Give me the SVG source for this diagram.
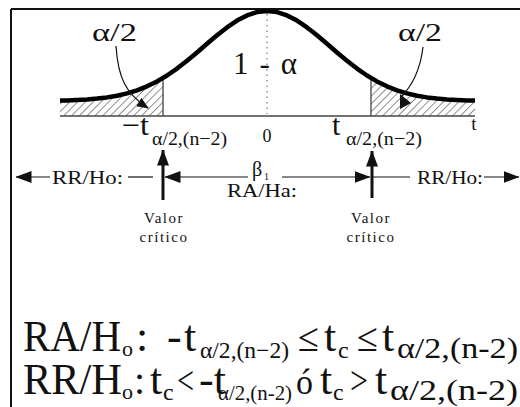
<svg xmlns="http://www.w3.org/2000/svg" width="520" height="407" viewBox="0 0 520 407">
<defs>
<style>
text{font-family:"Liberation Serif","Times New Roman",serif;fill:#111}
.thin{stroke:#111;stroke-width:1.2;fill:none}
.thick{stroke:#111;stroke-width:3;fill:none}
.ax{stroke:#444;stroke-width:1.3;fill:none}
.hd{fill:#111}
.f{font-size:44px}
.s{font-size:24px}
</style>
<pattern id="hatch" patternUnits="userSpaceOnUse" width="5.5" height="5.5" patternTransform="rotate(45)">
<line x1="0" y1="0" x2="0" y2="5.5" stroke="#222" stroke-width="1"/>
</pattern>
<marker id="ah" viewBox="0 0 12 10" refX="11" refY="5" markerWidth="12" markerHeight="10" markerUnits="userSpaceOnUse" orient="auto">
<path d="M0,0 L12,5 L0,10 Z" fill="#111"/>
</marker>
<marker id="big" viewBox="0 0 16 12" refX="15.5" refY="6" markerWidth="16" markerHeight="12" markerUnits="userSpaceOnUse" orient="auto">
<path d="M0,0 L16,6 L0,12 Z" fill="#111"/>
</marker>
</defs>
<rect width="520" height="407" fill="#fff"/>
<g id="frame">
<path d="M11,9 H520 M11,9 V407" stroke="#111" stroke-width="2" fill="none"/>
</g>
<g id="tails">
<path d="M60,116 L60,100.6 L67,100.4 L77,100 L87,99.5 L97,98.6 L107,97.4 L117,95.7 L127,93.4 L137,90.3 L147,86.3 L157,81.4 L163,78 L163,116 Z" fill="url(#hatch)"/>
<path d="M371,116 L371,78 L377,81.4 L387,86.3 L397,90.3 L407,93.4 L417,95.7 L427,97.4 L437,98.6 L447,99.5 L457,100 L467,100.4 L475,100.6 L475,116 Z" fill="url(#hatch)"/>
<path d="M163,78 V116 M371,78 V116" class="ax"/>
</g>
<g id="axis">
<line x1="60" y1="116" x2="475" y2="116" class="ax"/>
<line x1="267" y1="14" x2="267" y2="114" stroke="#777" stroke-width="1.2" stroke-dasharray="1.5,4"/>
</g>
<g id="curve">
<path d="M60,100.6 L67,100.4 L77,100 L87,99.5 L97,98.6 L107,97.4 L117,95.7 L127,93.4 L137,90.3 L147,86.3 L157,81.4 L167,75.5 L177,68.6 L187,60.8 L197,52.5 L207,43.8 L217,35.3 L227,27.4 L237,20.6 L247,15.4 L257,12.1 L267,11 L277,12.1 L287,15.4 L297,20.6 L307,27.4 L317,35.3 L327,43.8 L337,52.5 L347,60.8 L357,68.6 L367,75.5 L377,81.4 L387,86.3 L397,90.3 L407,93.4 L417,95.7 L427,97.4 L437,98.6 L447,99.5 L457,100 L467,100.4 L475,100.6" stroke="#000" stroke-width="4.5" fill="none" stroke-linejoin="round" stroke-linecap="butt"/>
</g>
<g id="labels-top">
<text x="92" y="41" font-size="26" textLength="45" lengthAdjust="spacingAndGlyphs">α/2</text>
<text x="398" y="41" font-size="26" textLength="44" lengthAdjust="spacingAndGlyphs">α/2</text>
<text x="233" y="74" font-size="31" textLength="64" lengthAdjust="spacing">1 - α</text>
<text x="122" y="135" font-size="30" textLength="27" lengthAdjust="spacingAndGlyphs">−t</text>
<text x="152" y="145" font-size="19" textLength="75" lengthAdjust="spacingAndGlyphs">α/2,(n−2)</text>
<text x="332" y="135" font-size="30">t</text>
<text x="346" y="145" font-size="19" textLength="76" lengthAdjust="spacingAndGlyphs">α/2,(n−2)</text>
<text x="267" y="142" font-size="18" text-anchor="middle">0</text>
<text x="474" y="130" font-size="19" text-anchor="middle">t</text>
</g>
<g id="connectors">
<path d="M116,46 C118,78 126,94 148,108" class="thin" marker-end="url(#ah)"/>
<path d="M423,47 C420,72 410,88 401,97" class="thin"/>
<path d="M400,94 L400,109 L411,103 Z" class="hd"/>
<line x1="50" y1="177" x2="16" y2="177" class="thin" marker-end="url(#big)"/>
<line x1="128" y1="177" x2="153" y2="177" class="thin"/>
<line x1="248" y1="177" x2="165" y2="177" class="thin" marker-end="url(#big)"/>
<line x1="163" y1="200" x2="163" y2="150" class="thick" marker-end="url(#big)"/>
<line x1="282" y1="177" x2="370" y2="177" class="thin" marker-end="url(#big)"/>
<line x1="372" y1="198" x2="372" y2="151" class="thick" marker-end="url(#big)"/>
<line x1="372" y1="177" x2="410" y2="177" class="thin"/>
<line x1="484" y1="177" x2="519" y2="177" class="thin" marker-end="url(#big)"/>
</g>
<g id="regions">
<text x="52" y="184" font-size="19" textLength="71" lengthAdjust="spacingAndGlyphs">RR/Ho:</text>
<text x="417" y="184" font-size="19" textLength="66" lengthAdjust="spacingAndGlyphs">RR/Ho:</text>
<text x="252" y="176" font-size="20">β</text>
<text x="264" y="180" font-size="10">1</text>
<text x="227" y="197" font-size="19" textLength="70" lengthAdjust="spacingAndGlyphs">RA/Ha:</text>
</g>
<g id="valor-left">
<text x="164" y="223" font-size="15" text-anchor="middle" letter-spacing="1.5">Valor</text>
<text x="164" y="242" font-size="15" text-anchor="middle" letter-spacing="1.5">crítico</text>
</g>
<g id="valor-right">
<text x="371" y="223" font-size="15" text-anchor="middle" letter-spacing="1.5">Valor</text>
<text x="371" y="242" font-size="15" text-anchor="middle" letter-spacing="1.5">crítico</text>
</g>
<g id="formula-ra">
<text x="23" y="351" class="f" textLength="98" lengthAdjust="spacingAndGlyphs">RA/H</text>
<text x="122" y="356" font-size="22">o</text>
<text x="136" y="351" class="f">:</text>
<text x="167" y="351" class="f">-</text>
<text x="184" y="351" class="f">t</text>
<text x="200" y="358" font-size="23" textLength="89" lengthAdjust="spacingAndGlyphs">α/2,(n−2)</text>
<text x="298" y="351" font-size="40" textLength="21" lengthAdjust="spacingAndGlyphs">≤</text>
<text x="324" y="351" class="f">t</text>
<text x="338" y="358" class="s">c</text>
<text x="357" y="351" font-size="40" textLength="21" lengthAdjust="spacingAndGlyphs">≤</text>
<text x="382" y="351" class="f">t</text>
<text x="397" y="358" font-size="30" textLength="121" lengthAdjust="spacingAndGlyphs">α/2,(n-2)</text>
</g>
<g id="formula-rr">
<text x="23" y="394" class="f" textLength="99" lengthAdjust="spacingAndGlyphs">RR/H</text>
<text x="122" y="399" font-size="22">o</text>
<text x="134" y="394" font-size="40">:</text>
<text x="150" y="394" class="f">t</text>
<text x="163" y="400" class="s">c</text>
<text x="177" y="394" font-size="40" textLength="17" lengthAdjust="spacingAndGlyphs">&lt;</text>
<text x="199" y="394" class="f">-t</text>
<text x="218" y="400" font-size="21" textLength="74" lengthAdjust="spacingAndGlyphs">α/2,(n-2)</text>
<text x="296" y="394" font-size="36" textLength="17" lengthAdjust="spacingAndGlyphs">ó</text>
<text x="320" y="394" class="f">t</text>
<text x="333" y="400" class="s">c</text>
<text x="350" y="394" font-size="40" textLength="18" lengthAdjust="spacingAndGlyphs">&gt;</text>
<text x="375" y="394" class="f">t</text>
<text x="390" y="400" font-size="30" textLength="128" lengthAdjust="spacingAndGlyphs">α/2,(n-2)</text>
</g>
</svg>
